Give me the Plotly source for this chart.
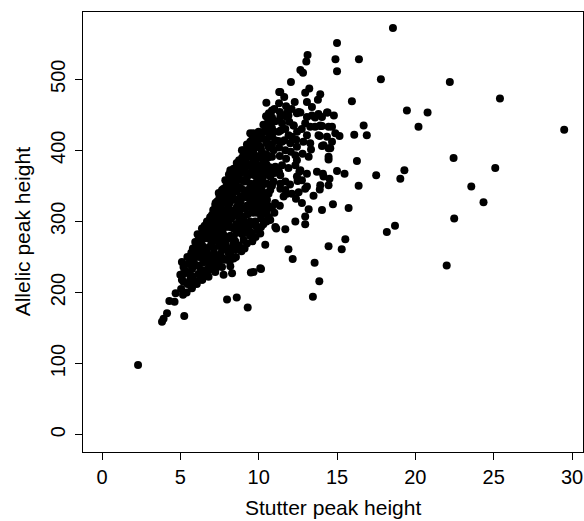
import plotly.graph_objects as go

# Stutter peak height (x) and allelic peak height (y)
stutter = [
    2.3, 3.83, 3.93, 4.15, 4.3, 4.63, 4.7, 5.17, 5.25, 7.98,
    8.6, 9.3, 5.0, 5.2, 5.63, 6.27, 5.2, 5.95, 6.38, 6.7,
    7.02, 7.66, 7.87, 7.76, 8.19, 8.4, 9.04, 9.04, 8.93, 9.46,
    9.67, 10.0, 10.31, 10.47, 10.49, 11.31, 11.38, 11.63, 12.06, 12.83,
    12.66, 13.12, 13.04, 15.0, 14.9, 16.4, 15.0, 17.8, 18.57, 13.23,
    12.97, 13.93, 13.78, 15.95, 13.08, 13.4, 19.46, 11.8, 12.55, 13.08,
    13.6, 14.4, 14.8, 16.7, 14.68, 14.04, 13.6, 22.2, 25.4, 20.78,
    20.2, 29.5, 22.44, 19.3, 19.04, 25.1, 23.57, 24.35, 22.48, 22.0,
    18.18, 18.7, 16.9, 16.1, 16.27, 17.5, 16.38, 15.48, 15.0, 14.1,
    14.52, 13.9, 13.5, 14.74, 15.74, 14.04, 13.19, 12.97, 12.97, 12.34,
    11.7, 15.53, 15.3, 14.46, 11.9, 12.17, 13.57, 13.87, 13.46, 14.46,
    13.34, 14.46, 15.16, 13.9, 13.08, 14.04, 14.68, 12.34, 12.6, 13.08,
    12.48, 12.97, 12.38, 11.8, 12.76, 9.5, 10.15, 10.42, 11.12, 12.55,
    12.12, 11.7, 11.38, 12.76, 9.25, 9.04, 8.5, 8.19, 8.3, 11.06,
    11.7, 12.44, 10.85, 11.27, 11.91, 12.23, 10.53, 9.46, 10.1, 10.95,
    11.49, 12.02, 12.34, 11.9, 10.85, 11.06, 10.74, 9.67, 9.14, 8.6,
    8.3, 9.46, 10.2, 12.44, 7.98, 8.83, 9.78, 10.63, 11.59, 11.9,
    12.66, 13.4, 13.82, 14.36, 10.74, 11.49, 13.29, 13.93, 14.46, 14.89,
    13.82, 14.36, 11.27, 12.12, 12.44, 13.29, 14.14, 14.57, 11.7, 14.46,
    12.44, 13.19, 11.49, 12.66, 13.72, 14.14, 11.38, 12.55, 13.08, 13.93,
    14.46, 11.38, 10.1, 11.06, 10.74, 10.53, 10.53, 10.74, 10.53, 9.78,
    10.1, 10.1, 9.04, 9.36, 8.4, 8.19, 7.66, 7.12, 6.48, 6.91,
    7.66, 8.19, 7.23, 6.7, 7.76, 7.23, 7.76, 11.38, 11.8, 14.04,
    12.23, 12.97, 13.93, 9.67, 5.74, 6.38, 6.8, 7.12, 5.2, 5.1,
    # dense core of the cloud
    5.05, 5.15, 5.1, 5.4, 5.45, 5.35, 5.5, 5.45, 5.7, 5.8,
    5.75, 5.85, 5.7, 5.8, 6.05, 6.15, 6.1, 6.2, 6.05, 6.15,
    6.1, 6.4, 6.5, 6.45, 6.55, 6.4, 6.5, 6.45, 6.55, 6.8,
    6.85, 6.75, 6.85, 6.8, 6.9, 6.8, 6.9, 7.1, 7.2, 7.15,
    7.1, 7.2, 7.15, 7.2, 7.1, 7.25, 7.45, 7.55, 7.5, 7.45,
    7.55, 7.5, 7.45, 7.55, 7.5, 7.45, 7.85, 7.9, 7.8, 7.9,
    7.85, 7.9, 7.8, 7.95, 8.15, 8.25, 8.2, 8.15, 8.25, 8.2,
    8.15, 8.3, 8.2, 8.25, 8.1, 8.55, 8.5, 8.6, 8.55, 8.5,
    8.6, 8.5, 8.6, 8.55, 8.5, 8.6, 8.9, 8.95, 8.85, 8.9,
    8.95, 8.85, 8.9, 8.95, 8.85, 8.9, 8.95, 9.25, 9.2, 9.3,
    9.25, 9.2, 9.3, 9.25, 9.2, 9.3, 9.25, 9.6, 9.55, 9.6,
    9.65, 9.55, 9.6, 9.65, 9.55, 9.6, 9.65, 9.55, 9.6, 9.95,
    9.9, 10.0, 9.95, 9.9, 10.0, 9.95, 9.9, 10.0, 9.95, 9.9,
    10.3, 10.25, 10.35, 10.3, 10.25, 10.35, 10.3, 10.25, 10.35, 10.3,
    10.65, 10.6, 10.7, 10.6, 10.65, 10.7, 10.6, 10.65, 11.0, 11.05,
    10.95, 11.0, 11.05, 10.95, 11.0, 11.35, 11.3, 11.35, 11.3, 11.4,
    11.35, 11.3, 11.7, 11.75, 11.65, 11.7, 11.75, 12.0, 12.05, 11.95,
    12.1, 12.4, 12.45, 12.3, 12.8, 12.75, 12.85,
    # in-between fill of the core
    5.6, 5.6, 5.95, 5.95, 5.95, 6.3, 6.3, 6.3, 6.3, 6.65,
    6.65, 6.65, 6.65, 6.65, 7.0, 7.0, 7.0, 7.0, 7.0, 7.0,
    7.35, 7.35, 7.35, 7.35, 7.35, 7.35, 7.35, 7.35, 7.7, 7.7,
    7.7, 7.7, 7.7, 7.7, 7.7, 8.05, 8.05, 8.05, 8.05, 8.05,
    8.05, 8.05, 8.05, 8.4, 8.4, 8.4, 8.4, 8.4, 8.4, 8.4,
    8.4, 8.75, 8.75, 8.75, 8.75, 8.75, 8.75, 8.75, 8.75, 8.75,
    9.1, 9.1, 9.1, 9.1, 9.1, 9.1, 9.1, 9.1, 9.45, 9.45,
    9.45, 9.45, 9.45, 9.45, 9.45, 9.45, 9.45, 9.8, 9.8, 9.8,
    9.8, 9.8, 9.8, 9.8, 9.8, 9.8, 9.8, 9.8, 10.15, 10.15,
    10.15, 10.15, 10.15, 10.15, 10.15, 10.15, 10.15, 10.15, 10.15, 10.5,
    10.5, 10.5, 10.5, 10.5, 10.5, 10.5, 10.5, 10.85, 10.85, 10.85,
    10.85, 10.85, 10.85, 10.85,
]

allelic = [
    98, 159, 163, 171, 188, 187, 199, 197, 167, 190,
    193, 179, 225, 215, 218, 222, 236, 271, 290, 300,
    309, 344, 358, 346, 372, 360, 384, 400, 400, 424,
    424, 426, 426, 448, 467, 482, 482, 475, 496, 509,
    513, 534, 525, 551, 528, 528, 511, 500, 572, 487,
    481, 479, 471, 469, 468, 461, 456, 452, 454, 447,
    446, 453, 449, 435, 433, 434, 433, 496, 473, 453,
    433, 429, 389, 372, 360, 375, 349, 327, 304, 238,
    285, 294, 421, 422, 385, 365, 350, 367, 371, 367,
    360, 345, 336, 324, 319, 316, 317, 307, 296, 300,
    289, 275, 261, 265, 261, 247, 242, 216, 194, 403,
    401, 387, 420, 420, 421, 406, 412, 393, 370, 367,
    357, 346, 332, 339, 326, 228, 233, 267, 290, 341,
    339, 344, 353, 358, 269, 274, 260, 250, 227, 441,
    449, 452, 431, 426, 421, 435, 415, 412, 405, 400,
    412, 410, 379, 375, 391, 377, 363, 386, 375, 363,
    349, 353, 349, 363, 335, 335, 337, 339, 335, 449,
    453, 449, 451, 453, 435, 438, 433, 435, 433, 424,
    421, 419, 413, 419, 405, 410, 407, 403, 400, 391,
    386, 391, 379, 372, 370, 363, 365, 358, 349, 351,
    351, 346, 234, 292, 302, 316, 330, 344, 353, 300,
    311, 283, 307, 292, 269, 257, 260, 255, 260, 246,
    236, 237, 229, 232, 225, 323, 316, 447, 447, 447,
    435, 438, 434, 229, 206, 218, 231, 234, 226, 218,
    # dense core of the cloud
    205, 226, 243, 200, 212, 230, 240, 250, 208, 222,
    233, 244, 256, 262, 212, 226, 238, 250, 262, 274,
    282, 218, 230, 242, 252, 266, 276, 286, 294, 222,
    240, 252, 264, 276, 288, 298, 306, 238, 246, 262,
    274, 286, 296, 306, 316, 326, 242, 254, 266, 278,
    290, 300, 312, 322, 334, 340, 246, 268, 280, 292,
    304, 326, 340, 350, 244, 262, 280, 292, 304, 316,
    326, 338, 350, 362, 366, 250, 272, 284, 296, 308,
    320, 330, 342, 354, 372, 382, 258, 282, 294, 306,
    318, 328, 346, 358, 368, 380, 390, 284, 298, 310,
    322, 334, 344, 362, 388, 398, 408, 272, 284, 296,
    312, 324, 336, 348, 366, 376, 398, 408, 416, 288,
    312, 322, 334, 346, 358, 370, 380, 392, 412, 420,
    296, 322, 334, 340, 360, 372, 384, 396, 416, 436,
    306, 322, 376, 390, 404, 420, 440, 452, 312, 326,
    356, 368, 414, 426, 458, 322, 370, 392, 404, 428,
    454, 466, 356, 388, 414, 430, 462, 352, 398, 440,
    458, 415, 426, 468, 395, 430, 412,
    # in-between fill of the core
    226, 248, 215, 238, 252, 232, 258, 270, 280, 226,
    246, 258, 280, 290, 242, 252, 270, 282, 292, 302,
    236, 250, 272, 284, 296, 306, 318, 328, 248, 272,
    284, 296, 308, 328, 336, 256, 262, 276, 298, 310,
    322, 344, 356, 248, 278, 290, 314, 332, 344, 366,
    374, 266, 288, 300, 312, 324, 348, 360, 374, 386,
    262, 290, 318, 338, 356, 370, 380, 394, 280, 300,
    320, 330, 342, 368, 380, 394, 404, 278, 294, 318,
    330, 342, 354, 364, 376, 388, 404, 416, 292, 304,
    318, 330, 342, 354, 366, 378, 390, 402, 418, 300,
    310, 340, 366, 380, 394, 410, 428, 320, 350, 370,
    408, 420, 446, 456,
]

x_ticks = [0, 5, 10, 15, 20, 25, 30]
y_ticks = [0, 100, 200, 300, 400, 500]
x_title = "Stutter peak height"
y_title = "Allelic peak height"

FONT = "Liberation Sans, Arial, Helvetica, sans-serif"

fig = go.Figure(
    go.Scatter(
        x=stutter,
        y=allelic,
        mode="markers",
        marker=dict(color="black", size=8, line=dict(width=0)),
        hoverinfo="x+y",
    )
)

axis_common = dict(
    showgrid=False,
    zeroline=False,
    showline=True,
    linecolor="black",
    linewidth=1,
    mirror=True,
    ticks="outside",
    ticklen=7,
    tickwidth=1,
    tickcolor="black",
    tickfont=dict(family=FONT, size=20, color="black"),
)

fig.update_xaxes(
    range=[-1.213, 30.70],
    tickmode="array",
    tickvals=x_ticks,
    ticktext=[str(v) for v in x_ticks],
    ticklabelstandoff=0,
    **axis_common,
)
fig.update_yaxes(
    range=[-24.3, 594.5],
    tickmode="array",
    tickvals=y_ticks,
    ticktext=[str(v) for v in y_ticks],
    tickangle=-90,
    ticklabelstandoff=2,
    **axis_common,
)

fig.update_layout(
    width=584,
    height=521,
    margin=dict(l=83, r=1, t=12, b=69),
    paper_bgcolor="white",
    plot_bgcolor="white",
    showlegend=False,
    font=dict(family=FONT, size=20, color="black"),
    annotations=[
        dict(
            text=x_title, xref="paper", yref="paper",
            x=0.5, y=(452.3 - 508) / 440.6,
            xanchor="center", yanchor="middle", showarrow=False,
            font=dict(family=FONT, size=21, color="black"),
        ),
        dict(
            text=y_title, xref="paper", yref="paper",
            x=(22 - 82.7) / 500, y=0.5, textangle=-90,
            xanchor="center", yanchor="middle", showarrow=False,
            font=dict(family=FONT, size=21, color="black"),
        ),
    ],
)

fig.write_html("out.html")
